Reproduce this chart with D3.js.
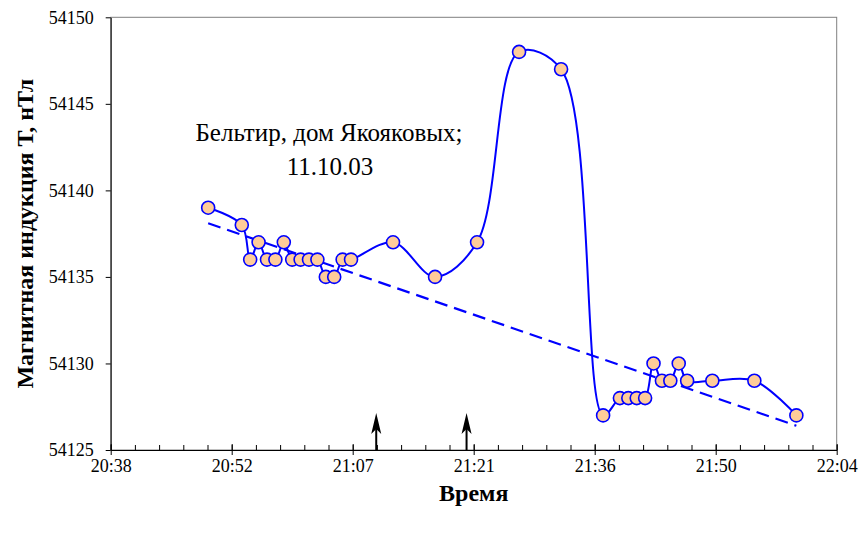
<!DOCTYPE html>
<html>
<head>
<meta charset="utf-8">
<script src="https://cdn.jsdelivr.net/npm/d3@7"></script>
<style>
  body { margin: 0; background: #fff; }
  svg text { font-family: "Liberation Serif", "DejaVu Serif", serif !important; fill: #000; }
  .tick text { font-size: 18px; }
  .aText { font-size: 24px; font-weight: bold; text-anchor: middle; }
  .note { font-size: 25px; text-anchor: middle; }
</style>
</head>
<body>
<div id="chart"></div>
<script>
// measurements
var times = ["20:50", "20:54", "20:55", "20:56", "20:57", "20:58", "20:59", "21:00", "21:01",
  "21:02", "21:03", "21:04", "21:05", "21:06", "21:07", "21:12", "21:17", "21:22", "21:27",
  "21:32", "21:37", "21:39", "21:40", "21:41", "21:42", "21:43", "21:44", "21:45", "21:46",
  "21:47", "21:50", "21:55", "22:00"];
var values = [54139, 54138, 54136, 54137, 54136, 54136, 54137, 54136, 54136,
  54136, 54136, 54135, 54135, 54136, 54136, 54137, 54135, 54137, 54148,
  54147, 54127, 54128, 54128, 54128, 54128, 54130, 54129, 54129, 54130,
  54129, 54129, 54129, 54127];

// dashed trend line
var trendTimes = ["20:50", "22:00"];
var trendValues = [54138.1, 54126.4];

// arrows on the time axis
var arrowTimes = ["21:10", "21:20:45"];

// axis: 0.86 .. 0.92 of a day, major step 0.01 day, minor 0.002 day
var xTickLabels = ["20:38", "20:52", "21:07", "21:21", "21:36", "21:50", "22:04"];
var yTicks = [54125, 54130, 54135, 54140, 54145, 54150];

var svgWidth = 861;
var svgHeight = 538;
var margin = { top: 17.3, right: 24.3, bottom: 88, left: 110.7 };
var width = svgWidth - margin.left - margin.right;
var height = svgHeight - margin.top - margin.bottom;
var serif = '"Liberation Serif", "DejaVu Serif", serif';

function toMin(s) {
  var p = s.split(":").map(Number);
  return p[0] * 60 + p[1] + (p[2] || 0) / 60;
}

var dayMin = 1440;
var xStart = 0.86 * dayMin, xEnd = 0.92 * dayMin;
var majorVals = d3.range(7).map(i => (0.86 + i * 0.01) * dayMin);
var minorVals = d3.range(31).map(i => (0.86 + i * 0.002) * dayMin);

var data = times.map((t, i) => ({ t: toMin(t), v: values[i] }));
var trend = trendTimes.map((t, i) => ({ t: toMin(t), v: trendValues[i] }));

var svg = d3.select("#chart")
  .append("svg")
  .attr("width", svgWidth)
  .attr("height", svgHeight)
  .attr("font-family", serif);

var chartGroup = svg.append("g")
  .attr("transform", `translate(${margin.left}, ${margin.top})`);

var xScale = d3.scaleLinear().domain([xStart, xEnd]).range([0, width]);
var yScale = d3.scaleLinear().domain([54125, 54150]).range([height, 0]);

// plot area border
chartGroup.append("rect")
  .attr("width", width)
  .attr("height", height)
  .attr("fill", "none")
  .attr("stroke", "#808080")
  .attr("stroke-width", 1);

// minor ticks pointing up
chartGroup.append("g")
  .attr("transform", `translate(0, ${height})`)
  .call(d3.axisBottom(xScale).tickValues(minorVals).tickSize(-5).tickFormat(""))
  .call(g => g.select(".domain").remove());

// major ticks crossing the axis
chartGroup.append("g")
  .attr("transform", `translate(0, ${height})`)
  .call(d3.axisBottom(xScale).tickValues(majorVals).tickSize(-6).tickFormat(""))
  .call(g => g.select(".domain").remove());

var bottomAxis = d3.axisBottom(xScale)
  .tickValues(majorVals)
  .tickSize(5)
  .tickSizeOuter(0)
  .tickPadding(4)
  .tickFormat((d, i) => xTickLabels[i]);
chartGroup.append("g")
  .attr("transform", `translate(0, ${height})`)
  .call(bottomAxis);

var leftAxis = d3.axisLeft(yScale)
  .tickValues(yTicks)
  .tickSize(5)
  .tickSizeOuter(0)
  .tickPadding(12)
  .tickFormat(d3.format("d"));
chartGroup.append("g").call(leftAxis);

chartGroup.selectAll("g").attr("font-family", serif);
chartGroup.selectAll(".domain, .tick line").attr("stroke", "#000");

// trend line
chartGroup.append("path")
  .datum(trend)
  .attr("fill", "none")
  .attr("stroke", "#0000ff")
  .attr("stroke-width", 2.2)
  .attr("stroke-dasharray", "13,7")
  .attr("d", d3.line().x(d => xScale(d.t)).y(d => yScale(d.v)));

// smoothed measurement line
chartGroup.append("path")
  .datum(data)
  .attr("fill", "none")
  .attr("stroke", "#0000ff")
  .attr("stroke-width", 2)
  .attr("d", d3.line().curve(d3.curveCatmullRom.alpha(0.5)).x(d => xScale(d.t)).y(d => yScale(d.v)));

chartGroup.selectAll("circle")
  .data(data)
  .enter()
  .append("circle")
  .attr("cx", d => xScale(d.t))
  .attr("cy", d => yScale(d.v))
  .attr("r", 6.5)
  .attr("fill", "#ffcc99")
  .attr("stroke", "#0000ff")
  .attr("stroke-width", 1.6);

// arrows
arrowTimes.forEach(function(t) {
  var ax = xScale(toMin(t));
  var tip = height - 37;
  chartGroup.append("line")
    .attr("x1", ax).attr("x2", ax)
    .attr("y1", height).attr("y2", tip + 8)
    .attr("stroke", "#000")
    .attr("stroke-width", 2);
  chartGroup.append("path")
    .attr("d", `M${ax},${tip} L${ax + 5},${tip + 21} L${ax},${tip + 16} L${ax - 5},${tip + 21} Z`)
    .attr("fill", "#000");
});

// annotation
chartGroup.append("text")
  .attr("class", "note")
  .attr("x", 329 - margin.left)
  .attr("y", 141 - margin.top)
  .text("Бельтир, дом Якояковых;");
chartGroup.append("text")
  .attr("class", "note")
  .attr("x", 330 - margin.left)
  .attr("y", 175 - margin.top)
  .text("11.10.03");

// axis titles
chartGroup.append("text")
  .attr("class", "aText")
  .attr("x", width / 2)
  .attr("y", height + 51)
  .text("Время");

chartGroup.append("text")
  .attr("class", "aText")
  .attr("transform", "rotate(-90)")
  .attr("x", -height / 2)
  .attr("y", 33 - margin.left)
  .text("Магнитная индукция Т, нТл");
</script>
</body>
</html>
